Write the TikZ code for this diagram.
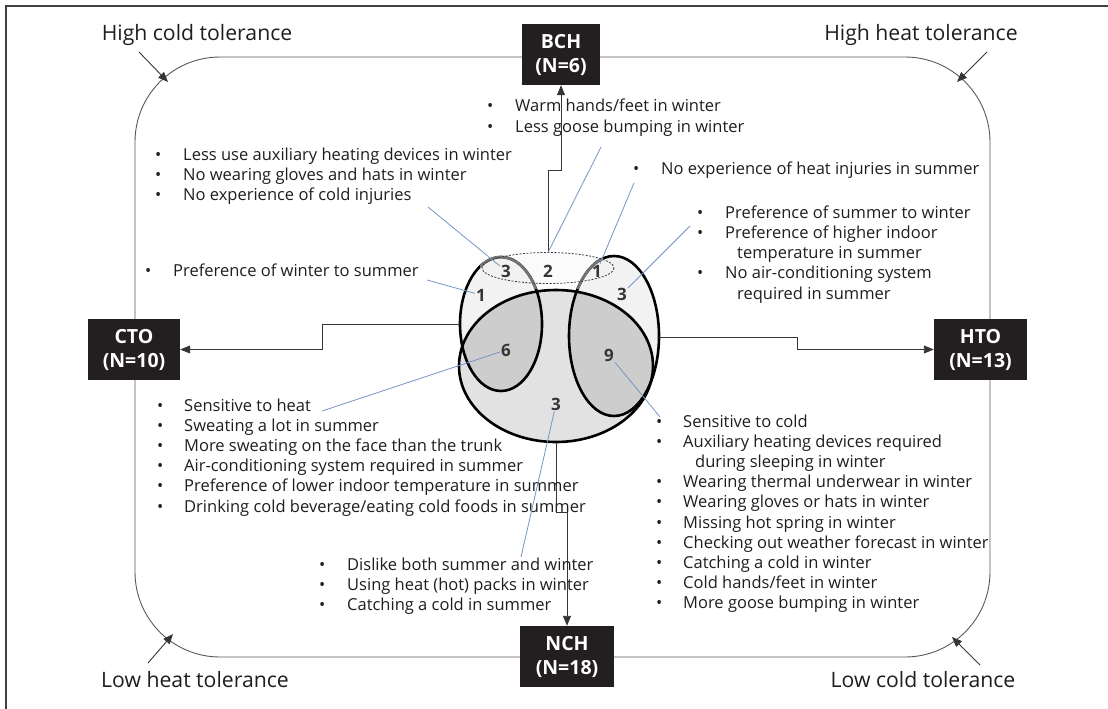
\documentclass[tikz,border=0pt]{standalone}
\usepackage{fontspec}
\setmainfont{Open Sans}
\usetikzlibrary{arrows.meta}

\definecolor{ink}{HTML}{1E1E1E}
\definecolor{boxfill}{HTML}{231F20}
\definecolor{leadblue}{HTML}{7595C4}
\definecolor{cupgray}{HTML}{F2F2F2}
\definecolor{topgray}{HTML}{FBFBFB}
\definecolor{nchgray}{HTML}{E2E2E3}
\definecolor{midgray}{HTML}{CDCDCE}

\tikzset{
	grp/.style={fill=boxfill, text=white, font=\fontsize{19.5}{24}\selectfont\bfseries, align=center, minimum height=61pt, inner sep=0pt},
	txt/.style={anchor=base west, inner sep=0pt, font=\fontsize{16.5}{18}\selectfont, text=ink},
	bul/.style={txt},
	tolname/.style={anchor=base, inner sep=0pt, font=\fontsize{21.2}{24}\selectfont, text=ink},
	num/.style={inner sep=1pt, font=\fontsize{17}{19}\selectfont\bfseries, text=ink!90},
	conn/.style={draw=ink!90, line width=0.9pt, -{Triangle[length=10pt,width=8pt]}},
	lead/.style={draw=leadblue, line width=0.8pt},
	ring/.style={draw=black, line width=2.6pt},
	ringgray/.style={draw=black!55, line width=2.6pt}
}

\begin{document}
\begin{tikzpicture}[x=1pt,y=-1pt]
\useasboundingbox (0,0) rectangle (1108,709);

% frame and rounded field
\draw[ink!85, line width=1.4pt] (6,709) -- (6,6) -- (1108,6);
\draw[black!65, line width=0.9pt, rounded corners=85pt] (135,57) rectangle (990,657);

% corner labels
\node[tolname] (hct) at (197,41) {High cold tolerance};
\node[tolname] (hht) at (921,41) {High heat tolerance};
\node[tolname] (lht) at (195,687) {Low heat tolerance};
\node[tolname] (lct) at (923,687) {Low cold tolerance};
\coordinate (hct-tip) at (168,82);
\coordinate (hht-tip) at (957,82);
\coordinate (lht-tip) at (173,634);
\coordinate (lct-tip) at (952,637);
\draw[conn] (139,52) -- (hct-tip);
\draw[conn] (987,52) -- (hht-tip);
\draw[conn] (148,663) -- (lht-tip);
\draw[conn] (980,665) -- (lct-tip);

% group boxes
\node[grp, minimum width=78pt] (bch) at (561,54.5) {BCH\\(N=6)};
\node[grp, minimum width=92pt] (cto) at (134,349.5) {CTO\\(N=10)};
\node[grp, minimum width=93pt] (hto) at (980.5,349.5) {HTO\\(N=13)};
\node[grp, minimum width=94pt] (nch) at (567,656.5) {NCH\\(N=18)};

% venn
\fill[topgray] (548,268) ellipse [x radius=66, y radius=15.5];
\fill[cupgray] (501,324) ellipse [x radius=41, y radius=67];
\fill[cupgray] (614,336) ellipse [x radius=45, y radius=80];
\fill[nchgray] (556,366) ellipse [x radius=97, y radius=76];
\begin{scope}
	\clip (556,366) ellipse [x radius=97, y radius=76];
	\fill[midgray] (501,324) ellipse [x radius=41, y radius=67];
	\fill[midgray] (614,336) ellipse [x radius=45, y radius=80];
\end{scope}
\draw[ring] (501,324) ellipse [x radius=41, y radius=67];
\draw[ring] (614,336) ellipse [x radius=45, y radius=80];
\begin{scope}
	\clip (480,245) rectangle (548,288);
	\draw[ringgray] (501,324) ellipse [x radius=41, y radius=67];
\end{scope}
\begin{scope}
	\clip (560,245) rectangle (603,288);
	\draw[ringgray] (614,336) ellipse [x radius=45, y radius=80];
\end{scope}
\draw[ring] (556,366) ellipse [x radius=97, y radius=76];
\draw[black!75, line width=0.8pt, dash pattern=on 2pt off 1.5pt] (548,268) ellipse [x radius=66, y radius=15.5];

\coordinate (bch-n) at (548,252.5);
\coordinate (cto-w) at (460,324);
\coordinate (hto-e) at (659,337);
\coordinate (nch-s) at (556,442);

% counts
\node[num] (n-tl) at (506,271) {3};
\node[num] (n-top) at (548,271) {2};
\node[num] (n-tr) at (597,271) {1};
\node[num] (n-l) at (481,295) {1};
\node[num] (n-r) at (622,294) {3};
\node[num] (n-cto) at (506,350) {6};
\node[num] (n-hto) at (609,355) {9};
\node[num] (n-nch) at (556,404) {3};

% connectors to groups
\draw[conn] (bch-n) -- (548,170) -| (bch);
\draw[conn] (cto-w) -- (322,324) |- (cto);
\draw[conn] (hto-e) -- (797,337) |- (hto);
\draw[conn] (nch-s) -- (556,512) -| (nch);

% BCH notes
\foreach \t [count=\i from 0] in {Warm hands/feet in winter, Less goose bumping in winter}{
	\node[bul] (bchb\i) at (487,{111+21*\i}) {\textbullet};
	\node[txt] (bcht\i) at (515,{111+21*\i}) {\t};
}

% high cold tolerance notes
\foreach \t [count=\i from 0] in {Less use auxiliary heating devices in winter, No wearing gloves and hats in winter, No experience of cold injuries}{
	\node[bul] (hcb\i) at (155,{160+20.2*\i}) {\textbullet};
	\node[txt] (hct\i) at (183,{160+20.2*\i}) {\t};
}
\node[bul] (wsb) at (145,276) {\textbullet};
\node[txt] (ws) at (173,276) {Preference of winter to summer};

% high heat tolerance notes
\node[bul] (hib) at (633,174) {\textbullet};
\node[txt] (hi) at (661,174) {No experience of heat injuries in summer};
\foreach \k/\t in {0/Preference of summer to winter, 1/Preference of higher indoor, 3/No air-conditioning system}{
	\node[bul] (hhb\k) at (697,{218+20.25*\k}) {\textbullet};
	\node[txt] (hht\k) at (725,{218+20.25*\k}) {\t};
}
\node[txt] (hht2) at (737,258.5) {temperature in summer};
\node[txt] (hht4) at (737,299) {required in summer};

% CTO notes
\foreach \t [count=\i from 0] in {Sensitive to heat, Sweating a lot in summer, More sweating on the face than the trunk, Air-conditioning system required in summer, Preference of lower indoor temperature in summer, {Drinking cold beverage/eating cold foods in summer}}{
	\node[bul] (ctb\i) at (157,{411+20.2*\i}) {\textbullet};
	\node[txt] (ctt\i) at (184,{411+20.2*\i}) {\t};
}

% HTO notes
\foreach \k/\t in {0/Sensitive to cold, 1/Auxiliary heating devices required, 3/Wearing thermal underwear in winter, 4/Wearing gloves or hats in winter, 5/Missing hot spring in winter, 6/Checking out weather forecast in winter, 7/Catching a cold in winter, 8/{Cold hands/feet in winter}, 9/More goose bumping in winter}{
	\node[bul] (htb\k) at (656,{427+20.2*\k}) {\textbullet};
	\node[txt] (htt\k) at (683,{427+20.2*\k}) {\t};
}
\node[txt] (htt2) at (695,467.4) {during sleeping in winter};

% NCH notes
\foreach \t [count=\i from 0] in {Dislike both summer and winter, Using heat (hot) packs in winter, Catching a cold in summer}{
	\node[bul] (ncb\i) at (319,{570+20.2*\i}) {\textbullet};
	\node[txt] (nct\i) at (347,{570+20.2*\i}) {\t};
}

% leaders
\coordinate (l-hc) at (428,207);
\coordinate (l-ws) at (427,280);
\coordinate (l-bch) at (601,147);
\coordinate (l-hi) at (634,183);
\coordinate (l-hh) at (690,226);
\coordinate (l-ct) at (322,411);
\coordinate (l-ht) at (660,417);
\coordinate (l-nc) at (521,557);
\draw[lead] (l-hc) -- (n-tl);
\draw[lead] (l-ws) -- (n-l);
\draw[lead] (l-bch) -- (bch-n);
\draw[lead] (l-hi) -- (n-tr);
\draw[lead] (l-hh) -- (n-r);
\draw[lead] (l-ct) -- (n-cto);
\draw[lead] (n-hto) -- (l-ht);
\draw[lead] (n-nch) -- (l-nc);

\end{tikzpicture}
\end{document}
